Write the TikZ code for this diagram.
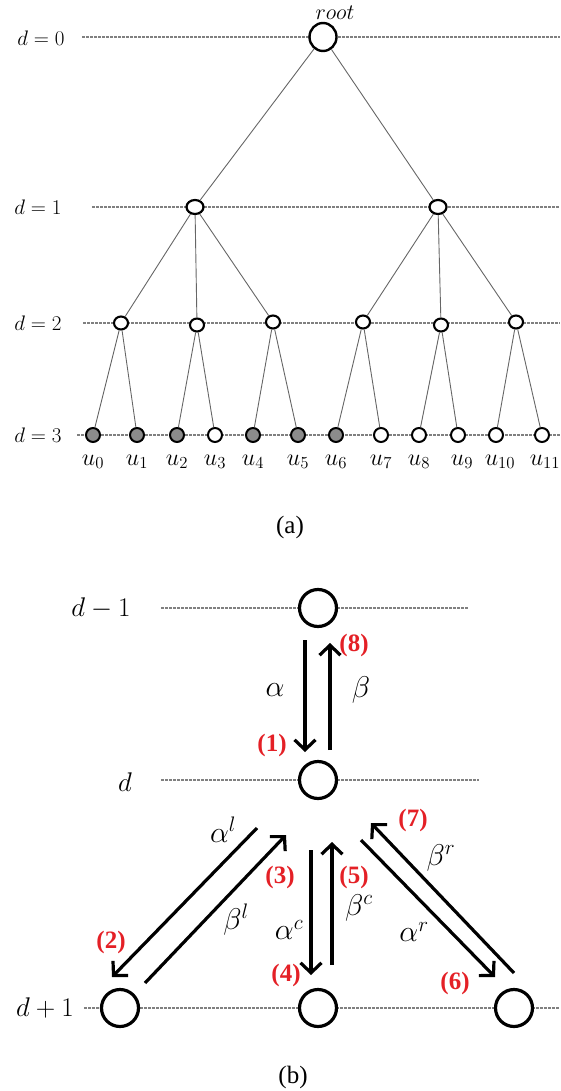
\documentclass[tikz,border=0pt]{standalone}
\usepackage{fix-cm}
\usepackage{fontspec}
\setmainfont{Liberation Serif}
\newfontfamily\tnr{Liberation Serif}
\usetikzlibrary{arrows.meta,shapes.geometric}
\definecolor{numred}{RGB}{228,32,38}
\definecolor{leafgray}{RGB}{140,140,140}
\begin{document}
\begin{tikzpicture}[x=1pt,y=-1pt,
  lvl/.style={draw=black!50, line width=1.2pt, dash pattern=on 2.5pt off 1.5pt},
  tedge/.style={draw=black!60, line width=0.9pt},
  rootnode/.style={ellipse, draw=black, line width=2.4pt, fill=white, minimum width=27pt, minimum height=28pt, inner sep=0pt},
  onenode/.style={ellipse, draw=black, line width=2.2pt, fill=white, minimum width=17pt, minimum height=14pt, inner sep=0pt},
  twonode/.style={ellipse, draw=black, line width=2.1pt, fill=white, minimum width=14pt, minimum height=13pt, inner sep=0pt},
  leaf/.style={circle, draw=black, line width=2pt, fill=white, minimum size=14pt, inner sep=0pt},
  gleaf/.style={leaf, fill=leafgray},
  bnode/.style={circle, draw=black, line width=3.2pt, fill=white, minimum size=37pt, inner sep=0pt},
  lvltxt/.style={font=\fontsize{21}{25}\selectfont, inner sep=0pt},
  ulab/.style={font=\fontsize{24}{28}\selectfont, inner sep=0pt},
  blvl/.style={font=\fontsize{27}{32}\selectfont, inner sep=0pt},
  greek/.style={font=\fontsize{30}{36}\selectfont, inner sep=0pt},
  num/.style={font=\tnr\fontsize{25}{30}\selectfont\bfseries, text=numred, inner sep=0pt},
  captxt/.style={font=\tnr\fontsize{25}{30}\selectfont, inner sep=0pt},
  flow/.style={draw=black, line width=3.2pt, -{Straight Barb[length=10pt,width=21pt]}}
]
\useasboundingbox (0,0) rectangle (560,1091);

% ---------- (a) ----------
\node[lvltxt] (l0) at (41,38) {$d=0$};
\node[lvltxt] (l1) at (38,207) {$d=1$};
\node[lvltxt] (l2) at (38,323) {$d=2$};
\node[lvltxt] (l3) at (38,435) {$d=3$};

\coordinate (s0) at (82,37);  \coordinate (e0) at (560,37);
\coordinate (s1) at (92,207); \coordinate (e1) at (560,207);
\coordinate (s2) at (83,323); \coordinate (e2) at (560,323);
\coordinate (s3) at (77,435); \coordinate (e3) at (560,435);
\draw[lvl] (s0) -- (e0);
\draw[lvl] (s1) -- (e1);
\draw[lvl] (s2) -- (e2);
\draw[lvl] (s3) -- (e3);

\node[rootnode] (root) at (323,37) {};
\node[font=\fontsize{22}{26}\selectfont, inner sep=0pt] (rootlab) at (335,13) {$root$};

\node[onenode] (n1) at (195,207) {};
\node[onenode] (n2) at (438,207) {};

\node[twonode] (m1) at (121,323) {};
\node[twonode] (m2) at (197,325) {};
\node[twonode] (m3) at (273,322) {};
\node[twonode] (m4) at (363,322) {};
\node[twonode] (m5) at (441,325) {};
\node[twonode] (m6) at (516,322) {};

\node[gleaf] (u0) at (93,435) {};
\node[gleaf] (u1) at (137,435) {};
\node[gleaf] (u2) at (177,435) {};
\node[leaf]  (u3) at (215,435) {};
\node[gleaf] (u4) at (253,435) {};
\node[gleaf] (u5) at (298,435) {};
\node[gleaf] (u6) at (336,435) {};
\node[leaf]  (u7) at (381,435) {};
\node[leaf]  (u8) at (419,435) {};
\node[leaf]  (u9) at (458,435) {};
\node[leaf]  (u10) at (496,435) {};
\node[leaf]  (u11) at (542,435) {};

\draw[tedge] (root) -- (n1);
\draw[tedge] (root) -- (n2);
\draw[tedge] (n1) -- (m1);
\draw[tedge] (n1) -- (m2);
\draw[tedge] (n1) -- (m3);
\draw[tedge] (n2) -- (m4);
\draw[tedge] (n2) -- (m5);
\draw[tedge] (n2) -- (m6);
\draw[tedge] (m1) -- (u0);
\draw[tedge] (m1) -- (u1);
\draw[tedge] (m2) -- (u2);
\draw[tedge] (m2) -- (u3);
\draw[tedge] (m3) -- (u4);
\draw[tedge] (m3) -- (u5);
\draw[tedge] (m4) -- (u6);
\draw[tedge] (m4) -- (u7);
\draw[tedge] (m5) -- (u8);
\draw[tedge] (m5) -- (u9);
\draw[tedge] (m6) -- (u10);
\draw[tedge] (m6) -- (u11);

\node[ulab] (t0) at (93,462) {$u_0$};
\node[ulab] (t1) at (137,462) {$u_1$};
\node[ulab] (t2) at (177,462) {$u_2$};
\node[ulab] (t3) at (215,462) {$u_3$};
\node[ulab] (t4) at (253,462) {$u_4$};
\node[ulab] (t5) at (298,462) {$u_5$};
\node[ulab] (t6) at (336,462) {$u_6$};
\node[ulab] (t7) at (381,462) {$u_7$};
\node[ulab] (t8) at (419,462) {$u_8$};
\node[ulab] (t9) at (462,462) {$u_9$};
\node[ulab] (t10) at (500,462) {$u_{10}$};
\node[ulab] (t11) at (545,462) {$u_{11}$};

\node[captxt] (capa) at (290,527) {(a)};

% ---------- (b) ----------
\node[blvl] (bl0) at (101,608) {$d-1$};
\node[blvl] (bl1) at (125,782) {$d$};
\node[blvl] (bl2) at (45,1008) {$d+1$};

\coordinate (bs0) at (161,608); \coordinate (be0) at (468,608);
\coordinate (bs1) at (161,780); \coordinate (be1) at (479,780);
\coordinate (bs2) at (84,1008); \coordinate (be2) at (560,1008);
\draw[lvl] (bs0) -- (be0);
\draw[lvl] (bs1) -- (be1);
\draw[lvl] (bs2) -- (be2);

\node[bnode] (P) at (318,608) {};
\node[bnode] (C) at (318,780) {};
\node[bnode] (L) at (120,1008) {};
\node[bnode] (M) at (318,1008) {};
\node[bnode] (R) at (514,1008) {};

\coordinate (a1s) at (305,640); \coordinate (a1e) at (305,752);
\coordinate (b1s) at (330,750); \coordinate (b1e) at (330,643);
\coordinate (als) at (257,828); \coordinate (ale) at (112,977);
\coordinate (bls) at (145,983); \coordinate (ble) at (286,835);
\coordinate (acs) at (311,850); \coordinate (ace) at (311,975);
\coordinate (bcs) at (332,965); \coordinate (bce) at (332,842);
\coordinate (ars) at (361,840); \coordinate (are) at (495,977);
\coordinate (brs) at (514,973); \coordinate (bre) at (371,823);

\draw[flow] (a1s) -- (a1e);
\draw[flow] (b1s) -- (b1e);
\draw[flow] (als) -- (ale);
\draw[flow] (bls) -- (ble);
\draw[flow] (acs) -- (ace);
\draw[flow] (bcs) -- (bce);
\draw[flow] (ars) -- (are);
\draw[flow] (brs) -- (bre);

\node[greek] (ga) at (275,690) {$\alpha$};
\node[greek] (gb) at (361,690) {$\beta$};
\node[greek] (gal) at (223,830) {$\alpha^l$};
\node[greek] (gbl) at (236,920) {$\beta^l$};
\node[greek] (gac) at (289,930) {$\alpha^c$};
\node[greek] (gbc) at (359,908) {$\beta^c$};
\node[greek] (gar) at (414,932) {$\alpha^r$};
\node[greek] (gbr) at (441,858) {$\beta^r$};

\node[num] (k1) at (272,745) {(1)};
\node[num] (k2) at (111,942) {(2)};
\node[num] (k3) at (280,877) {(3)};
\node[num] (k4) at (286,975) {(4)};
\node[num] (k5) at (354,877) {(5)};
\node[num] (k6) at (455,983) {(6)};
\node[num] (k7) at (413,820) {(7)};
\node[num] (k8) at (354,645) {(8)};

\node[captxt] (capb) at (293,1077) {(b)};
\end{tikzpicture}
\end{document}
